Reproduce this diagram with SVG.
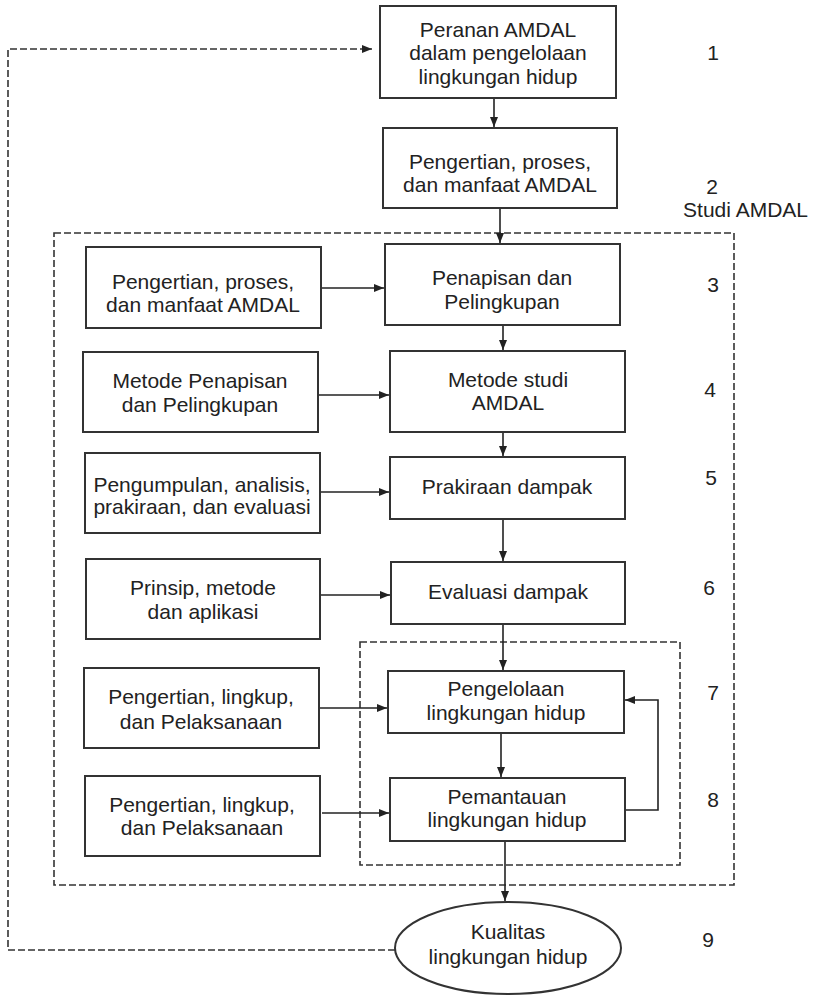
<svg xmlns="http://www.w3.org/2000/svg" width="816" height="995" viewBox="0 0 816 995">
<defs>
<marker id="ah" markerWidth="10" markerHeight="8" refX="10" refY="4" orient="auto" markerUnits="userSpaceOnUse">
<path d="M0,0 L10,4 L0,8 Z" fill="#222"/>
</marker>
<style>
.box{fill:#fff;stroke:#333;stroke-width:2}
.t{font-family:"Liberation Sans",Arial,sans-serif;font-size:21px;fill:#222;text-anchor:middle}
.n{font-family:"Liberation Sans",Arial,sans-serif;font-size:21px;fill:#222;text-anchor:middle}
.c{fill:none;stroke:#222;stroke-width:1.6}
.d{fill:none;stroke:#333;stroke-width:1.6;stroke-dasharray:7,3}
</style>
</defs>
<rect width="816" height="995" fill="#fff"/>
<g id="groups">
<rect class="d" x="54" y="233" width="680" height="652"/>
<rect class="d" x="360" y="642" width="320" height="223"/>
</g>
<g id="connectors">
<line class="c" x1="494" y1="98" x2="494" y2="127" marker-end="url(#ah)"/>
<line class="c" x1="500" y1="208" x2="500" y2="243" marker-end="url(#ah)"/>
<line class="c" x1="503" y1="325" x2="503" y2="350" marker-end="url(#ah)"/>
<line class="c" x1="503" y1="432" x2="503" y2="456" marker-end="url(#ah)"/>
<line class="c" x1="503" y1="519" x2="503" y2="561" marker-end="url(#ah)"/>
<line class="c" x1="503" y1="624" x2="503" y2="670" marker-end="url(#ah)"/>
<line class="c" x1="501" y1="733" x2="501" y2="777" marker-end="url(#ah)"/>
<line class="c" x1="505" y1="841" x2="505" y2="901" marker-end="url(#ah)"/>
<line class="c" x1="321" y1="288" x2="384" y2="288" marker-end="url(#ah)"/>
<line class="c" x1="318" y1="395" x2="389" y2="395" marker-end="url(#ah)"/>
<line class="c" x1="320" y1="492" x2="389" y2="492" marker-end="url(#ah)"/>
<line class="c" x1="320" y1="595" x2="390" y2="595" marker-end="url(#ah)"/>
<line class="c" x1="319" y1="708" x2="387" y2="708" marker-end="url(#ah)"/>
<line class="c" x1="322" y1="813" x2="389" y2="813" marker-end="url(#ah)"/>
<polyline class="c" points="625,810 658,810 658,700 625,700" marker-end="url(#ah)"/>
<polyline class="d" points="395,950 8,950 8,49 372,49" marker-end="url(#ah)"/>
</g>
<g id="n1"><rect class="box" x="380" y="6" width="236" height="92"/>
<text class="t" x="498" y="37">Peranan AMDAL</text><text class="t" x="498" y="60">dalam pengelolaan</text><text class="t" x="498" y="84">lingkungan hidup</text></g>
<g id="n2"><rect class="box" x="383" y="128" width="234" height="80"/>
<text class="t" x="500" y="169">Pengertian, proses,</text><text class="t" x="500" y="192">dan manfaat AMDAL</text></g>
<g id="n3"><rect class="box" x="385" y="244" width="235" height="81"/>
<text class="t" x="502" y="285">Penapisan dan</text><text class="t" x="502" y="309">Pelingkupan</text></g>
<g id="n4"><rect class="box" x="390" y="351" width="235" height="81"/>
<text class="t" x="508" y="387">Metode studi</text><text class="t" x="508" y="410">AMDAL</text></g>
<g id="n5"><rect class="box" x="390" y="457" width="235" height="62"/>
<text class="t" x="507" y="494">Prakiraan dampak</text></g>
<g id="n6"><rect class="box" x="391" y="562" width="234" height="62"/>
<text class="t" x="508" y="599">Evaluasi dampak</text></g>
<g id="n7"><rect class="box" x="388" y="671" width="236" height="62"/>
<text class="t" x="506" y="696">Pengelolaan</text><text class="t" x="506" y="720">lingkungan hidup</text></g>
<g id="n8"><rect class="box" x="390" y="778" width="235" height="63"/>
<text class="t" x="507" y="804">Pemantauan</text><text class="t" x="507" y="827">lingkungan hidup</text></g>
<g id="n9"><ellipse class="box" cx="508" cy="948" rx="113" ry="46"/>
<text class="t" x="508" y="939">Kualitas</text><text class="t" x="508" y="964">lingkungan hidup</text></g>
<g id="l3"><rect class="box" x="86" y="247" width="235" height="81"/>
<text class="t" x="203" y="289">Pengertian, proses,</text><text class="t" x="203" y="312">dan manfaat AMDAL</text></g>
<g id="l4"><rect class="box" x="83" y="352" width="235" height="80"/>
<text class="t" x="200" y="388">Metode Penapisan</text><text class="t" x="200" y="412">dan Pelingkupan</text></g>
<g id="l5"><rect class="box" x="85" y="453" width="235" height="80"/>
<text class="t" x="202" y="492">Pengumpulan, analisis,</text><text class="t" x="202" y="514">prakiraan, dan evaluasi</text></g>
<g id="l6"><rect class="box" x="86" y="559" width="234" height="80"/>
<text class="t" x="203" y="595">Prinsip, metode</text><text class="t" x="203" y="619">dan aplikasi</text></g>
<g id="l7"><rect class="box" x="84" y="668" width="235" height="80"/>
<text class="t" x="201" y="704">Pengertian, lingkup,</text><text class="t" x="201" y="729">dan Pelaksanaan</text></g>
<g id="l8"><rect class="box" x="85" y="776" width="235" height="80"/>
<text class="t" x="202" y="812">Pengertian, lingkup,</text><text class="t" x="202" y="835">dan Pelaksanaan</text></g>
<g id="labels">
<text class="n" x="713" y="60">1</text>
<text class="n" x="712" y="194">2</text>
<text class="t" x="808" y="217" style="text-anchor:end">Studi AMDAL</text>
<text class="n" x="713" y="292">3</text>
<text class="n" x="710" y="397">4</text>
<text class="n" x="711" y="485">5</text>
<text class="n" x="709" y="595">6</text>
<text class="n" x="713" y="700">7</text>
<text class="n" x="713" y="807">8</text>
<text class="n" x="708" y="947">9</text>
</g>
</svg>
